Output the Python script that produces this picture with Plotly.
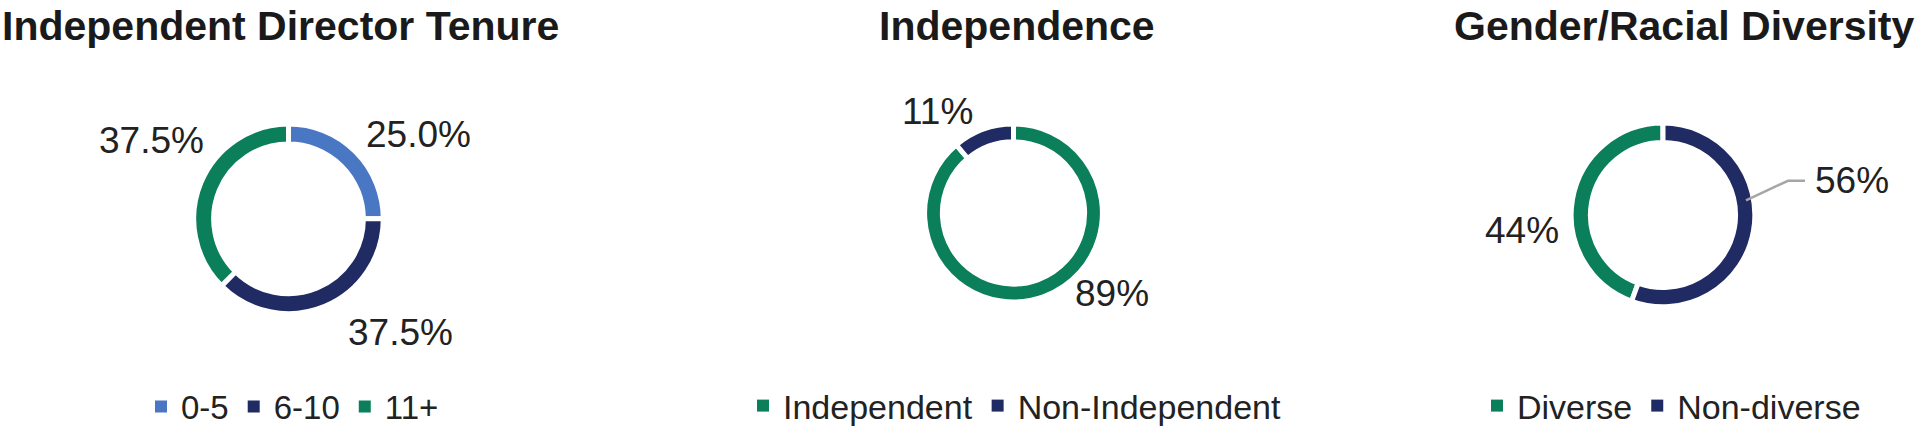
import plotly.graph_objects as go

W, H = 1917, 435

# ---- data ----
tenure_labels = ["0-5", "6-10", "11+"]
tenure_values = [2, 3, 3]
tenure_colors = ["#4a77c4", "#1f2b62", "#0b7f5a"]

indep_labels = ["Independent", "Non-Independent"]
indep_values = [8, 1]
indep_colors = ["#0b7f5a", "#1f2b62"]

div_labels = ["Diverse", "Non-diverse"]
div_values = [4, 5]
div_colors = ["#0b7f5a", "#1f2b62"]

titles = ["Independent Director Tenure", "Independence", "Gender/Racial Diversity"]

FONT = "Liberation Sans, Arial, Helvetica, sans-serif"
TXT = "#222222"


def px_dom(x0, x1, y0, y1):
    # pixel box (top-left origin) -> paper domain
    return dict(x=[x0 / W, x1 / W], y=[1 - y1 / H, 1 - y0 / H])


def pct(vals, i, fmt):
    return format(vals[i] / sum(vals), fmt)


SEP = dict(color="white", width=5)

fig = go.Figure()

fig.add_trace(go.Pie(
    labels=tenure_labels, values=tenure_values, sort=False, direction="clockwise",
    rotation=0, hole=0.79, domain=px_dom(191, 386, 127, 321),
    marker=dict(colors=tenure_colors, line=SEP),
    textposition="none", legend="legend", hoverinfo="label+percent",
))

fig.add_trace(go.Pie(
    labels=indep_labels, values=indep_values, sort=False, direction="clockwise",
    rotation=0, hole=0.8, domain=px_dom(923, 1104, 127, 309),
    marker=dict(colors=indep_colors, line=SEP),
    textposition="none", legend="legend2", hoverinfo="label+percent",
))

fig.add_trace(go.Pie(
    labels=div_labels, values=div_values, sort=False, direction="counterclockwise",
    rotation=-360 * div_values[0] / sum(div_values), hole=0.79,
    domain=px_dom(1569, 1757, 126, 314),
    marker=dict(colors=div_colors, line=SEP),
    textposition="none", legend="legend3", hoverinfo="label+percent",
))

# percentage labels (text from the data), placed like the reference
label_specs = [
    (pct(tenure_values, 0, ".1%"), 418, 138),
    (pct(tenure_values, 1, ".1%"), 400, 340),
    (pct(tenure_values, 2, ".1%"), 151, 144),
    (pct(indep_values, 0, ".0%"), 1112, 300),
    (pct(indep_values, 1, ".0%"), 937, 114),
    (pct(div_values, 0, ".0%"), 1522, 236),
    (pct(div_values, 1, ".0%"), 1852, 185),
]
annotations = []
for txt, x, y in label_specs:
    annotations.append(dict(text=txt, x=x / W, y=1 - y / H, xref="paper", yref="paper",
                            xanchor="center", yanchor="middle", showarrow=False,
                            font=dict(size=37, color=TXT, family=FONT)))

shapes = [
    dict(type="path", xref="paper", yref="paper",
         path=f"M {1746/W},{1-205/H} L {1788/W},{1-185/H} L {1805/W},{1-185/H}",
         line=dict(color="#a6a6a6", width=2.5)),
]

# titles
title_specs = [(titles[0], 0.0, "left"), (titles[1], 1017 / W, "center"),
               (titles[2], 1.0, "right")]
for t, x, xa in title_specs:
    annotations.append(dict(text=t, x=x, y=1, xref="paper", yref="paper",
                            xanchor=xa, yanchor="top", yshift=-1, showarrow=False,
                            font=dict(size=41, color="#1a1a1a", family=FONT, weight="bold")))

leg_common = dict(orientation="h", yanchor="middle", y=1 - 416 / H, xanchor="left",
                  bgcolor="rgba(0,0,0,0)", borderwidth=0, traceorder="normal")

fig.update_layout(
    width=W, height=H,
    margin=dict(l=0, r=0, t=0, b=0),
    paper_bgcolor="white", plot_bgcolor="white",
    showlegend=True,
    legend=dict(leg_common, x=141 / W, font=dict(size=33, color=TXT, family=FONT)),
    legend2=dict(leg_common, x=743 / W, font=dict(size=34, color=TXT, family=FONT)),
    legend3=dict(leg_common, x=1477 / W, font=dict(size=34, color=TXT, family=FONT)),
    annotations=annotations,
    shapes=shapes,
)

# page: no default body margin; legend squares shown without the separator stroke
post = """
document.body.style.margin = '0';
document.body.style.overflow = 'hidden';
var gd = document.getElementById('{plot_id}');
function fixLegend() {
  gd.querySelectorAll('path.legendpie').forEach(function (p) {
    p.style.strokeWidth = '0px';
  });
}
fixLegend();
if (gd.on) { gd.on('plotly_afterplot', fixLegend); }
"""

fig.write_html("out.html", post_script=post, config={"displayModeBar": False})
